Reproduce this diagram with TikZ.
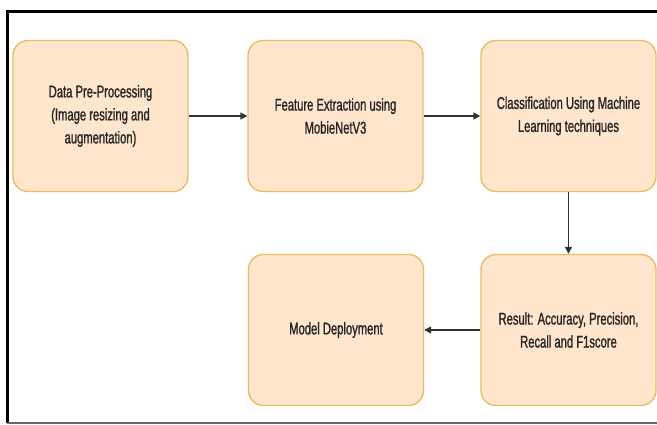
\documentclass[tikz,border=0pt]{standalone}
\usepackage{fontspec}
\setmainfont{Liberation Sans}[FakeStretch=0.66,FakeBold=1.2]
\usepackage{tikz}
\usetikzlibrary{arrows.meta}
\definecolor{peach}{RGB}{255,230,204}
\definecolor{peachline}{RGB}{232,190,100}
\definecolor{linkgray}{RGB}{50,50,50}

\tikzset{
  stagebox/.style={draw=peachline,line width=1.4pt,fill=peach,rounded corners=15pt,
    minimum width=175pt,minimum height=151pt,align=center,font=\fontsize{17}{23}\selectfont,
    text=black!85},
  link/.style={draw=linkgray,line width=1.5pt,-{Triangle[length=7pt,width=7pt]}}
}

\begin{document}
\begin{tikzpicture}[x=1pt,y=-1pt]
	\useasboundingbox (0,0) rectangle (657,425);
	
	% frame
	\draw[line width=3pt,black] (657,12)--(7,12)--(7,423);
	\draw[line width=2pt,black!60] (7,423)--(657,423);
	
	\coordinate (c_pre) at (100.5,116);
	\coordinate (c_feat) at (335.5,116);
	\coordinate (c_class) at (568.5,116);
	\coordinate (c_deploy) at (336,330);
	\coordinate (c_result) at (568.5,330);
	
	\node[stagebox] (pre) at (c_pre) {Data Pre-Processing\\(Image resizing and\\augmentation)};
	\node[stagebox] (feat) at (c_feat) {Feature Extraction using\\MobieNetV3};
	\node[stagebox] (class) at (c_class) {Classification Using Machine\\Learning techniques};
	\node[stagebox] (result) at (c_result) {Result: Accuracy, Precision,\\Recall and F1score};
	\node[stagebox] (deploy) at (c_deploy) {Model Deployment};
	
	\draw[link] (pre)--(feat);
	\draw[link] (feat)--(class);
	\draw[link] (class)--(result);
	\draw[link] (result)--(deploy);
\end{tikzpicture}
\end{document}
